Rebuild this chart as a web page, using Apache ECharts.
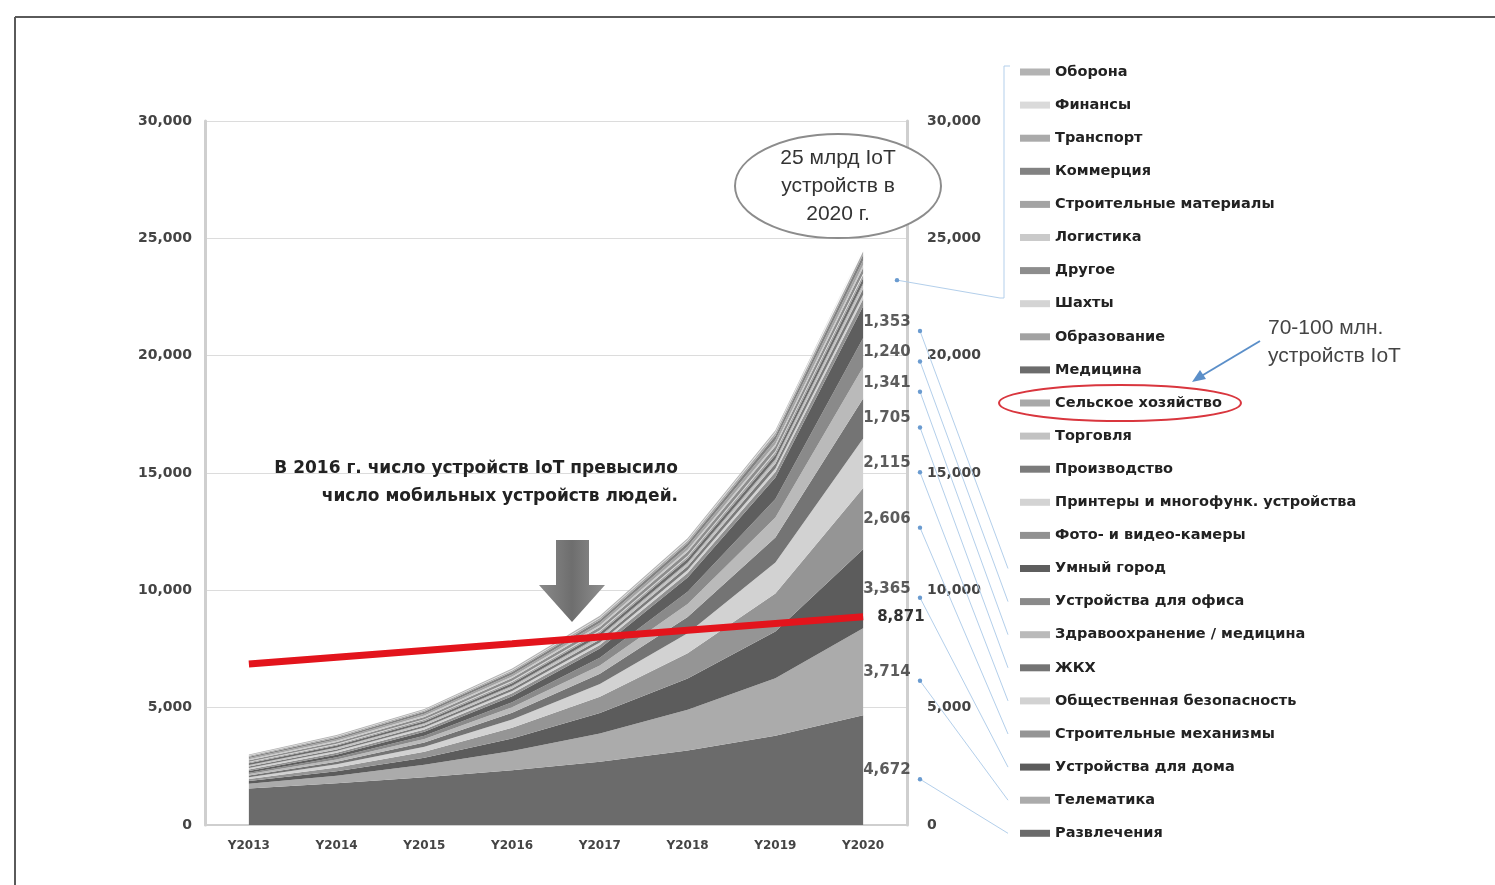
<!DOCTYPE html>
<html>
<head>
<meta charset="utf-8">
<title>IoT</title>
<script src="https://cdn.jsdelivr.net/npm/echarts/dist/echarts.min.js"></script>
<style>
  html, body { margin: 0; padding: 0; background: #ffffff; }
  #chart { width: 1495px; height: 885px; }
</style>
</head>
<body>
<div id="chart"></div>
<script>
// Years on the category axis
const years = ['Y2013', 'Y2014', 'Y2015', 'Y2016', 'Y2017', 'Y2018', 'Y2019', 'Y2020'];

// Installed IoT devices by segment, millions (stacked bottom to top)
const entertainment         = [1560, 1780, 2030, 2330, 2700, 3180, 3800, 4672];
const telematics            = [200, 320, 540, 820, 1200, 1730, 2450, 3714];
const homeDevices           = [110, 190, 300, 540, 870, 1330, 2000, 3365];
const constructionMachinery = [90, 160, 250, 455, 695, 1080, 1620, 2606];
const publicSafety          = [80, 135, 215, 350, 540, 850, 1320, 2115];
const utilities             = [70, 115, 180, 285, 440, 690, 1060, 1705];
const healthcare            = [60, 95, 150, 235, 355, 560, 850, 1341];
const officeDevices         = [60, 90, 140, 220, 330, 520, 790, 1240];
const smartCity             = [70, 110, 165, 255, 390, 610, 920, 1353];
const cameras               = [70, 85, 100, 125, 150, 185, 230, 300];
const printers              = [60, 70, 80, 95, 110, 130, 150, 180];
const manufacturing         = [60, 72, 85, 105, 130, 160, 205, 260];
const retail                = [50, 58, 66, 78, 90, 106, 125, 150];
const agriculture           = [20, 26, 32, 40, 50, 60, 72, 90];
const medicine              = [70, 80, 92, 110, 128, 150, 180, 220];
const education             = [40, 48, 56, 66, 78, 92, 110, 130];
const mines                 = [20, 24, 28, 33, 38, 44, 51, 60];
const other                 = [70, 84, 98, 118, 140, 168, 205, 250];
const logistics             = [40, 47, 55, 64, 75, 88, 102, 120];
const buildingMaterials     = [50, 62, 74, 90, 108, 132, 162, 200];
const commerce              = [60, 72, 85, 102, 122, 148, 185, 230];
const transport             = [40, 48, 56, 67, 80, 95, 115, 140];
const finance               = [20, 24, 28, 33, 38, 44, 51, 60];
const defense               = [30, 35, 41, 48, 56, 64, 72, 80];

// Personal mobile devices, millions
const mobileDevices = [6860, 7150, 7440, 7720, 8010, 8300, 8590, 8871];

// Segment names, bottom of the stack first
const segmentNames = [
  'Развлечения', 'Телематика', 'Устройства для дома', 'Строительные механизмы',
  'Общественная безопасность', 'ЖКХ', 'Здравоохранение / медицина', 'Устройства для офиса',
  'Умный город', 'Фото- и видео-камеры', 'Принтеры и многофунк. устройства', 'Производство',
  'Торговля', 'Сельское хозяйство', 'Медицина', 'Образование', 'Шахты', 'Другое',
  'Логистика', 'Строительные материалы', 'Коммерция', 'Транспорт', 'Финансы', 'Оборона'
];
const segmentData = [
  entertainment, telematics, homeDevices, constructionMachinery, publicSafety, utilities,
  healthcare, officeDevices, smartCity, cameras, printers, manufacturing, retail, agriculture,
  medicine, education, mines, other, logistics, buildingMaterials, commerce, transport,
  finance, defense
];
// Segments whose 2020 value is printed beside the stack
const labelledCount = 9;

// Greys of the stacked areas, same order as segmentNames
const segmentColors = [
  '#6b6b6b', '#ababab', '#5c5c5c', '#959595', '#d2d2d2', '#747474', '#bababa', '#8a8a8a',
  '#5e5e5e', '#919191', '#d3d3d3', '#7b7b7b', '#c2c2c2', '#a9a9a9', '#6c6c6c', '#a2a2a2',
  '#d4d4d4', '#8d8d8d', '#cacaca', '#a3a3a3', '#828282', '#aaaaaa', '#dadada', '#b3b3b3'
];

function fmt(v) {
  return String(Math.round(v)).replace(/\B(?=(\d{3})+(?!\d))/g, ',');
}

const FONT = '"DejaVu Sans", Verdana, sans-serif';
const FONT_PLAIN = '"Liberation Sans", Arial, sans-serif';
const last = years.length - 1;

// Mid-points of the labelled 2020 segments, and the middle of the thin upper group
const labelPoints = [];
let running = 0;
segmentData.forEach((d, i) => {
  const v = d[last];
  if (i < labelledCount) labelPoints.push({ value: [years[last], running + v / 2], seg: v });
  running += v;
});
const upperStart = segmentData.slice(0, labelledCount).reduce((s, d) => s + d[last], 0);
const upperMid = (upperStart + running) / 2;

const chart = echarts.init(document.getElementById('chart'));

const areaSeries = segmentNames.map((name, i) => ({
  name: name,
  type: 'line',
  stack: 'iot',
  data: segmentData[i],
  color: segmentColors[i],
  showSymbol: false,
  symbol: 'none',
  lineStyle: { width: 0 },
  areaStyle: { opacity: 1, color: segmentColors[i] },
  itemStyle: { color: segmentColors[i] },
  emphasis: { disabled: true },
  z: 2
}));

const axisLabelStyle = { color: '#444', fontFamily: FONT, fontWeight: 'bold', fontSize: 13 };

const legendTop = 59, legendPad = 5, legendGap = 17.1, legendLine = 16;

chart.setOption({
  animation: false,
  backgroundColor: '#ffffff',
  grid: { left: 205, right: 588, top: 121, bottom: 60, containLabel: false },
  legend: {
    orient: 'vertical',
    left: 1015,
    top: legendTop,
    padding: legendPad,
    itemGap: legendGap,
    itemWidth: 30,
    itemHeight: 7,
    icon: 'rect',
    selectedMode: false,
    data: segmentNames.slice().reverse(),
    textStyle: { color: '#222', fontFamily: FONT, fontWeight: 'bold', fontSize: 14.5, lineHeight: legendLine }
  },
  xAxis: {
    type: 'category',
    data: years,
    axisLine: { lineStyle: { color: '#cfcfcf', width: 2 } },
    axisTick: { show: false },
    axisLabel: Object.assign({ margin: 15, interval: 0 }, axisLabelStyle, { fontSize: 12 })
  },
  yAxis: [
    {
      type: 'value', min: 0, max: 30000, interval: 5000, position: 'left',
      axisLine: { show: true, lineStyle: { color: '#cfcfcf', width: 3 } },
      axisTick: { show: false },
      splitLine: { lineStyle: { color: '#dcdcdc', width: 1 } },
      axisLabel: Object.assign({ margin: 13, formatter: fmt }, axisLabelStyle, { fontSize: 14 })
    },
    {
      type: 'value', min: 0, max: 30000, interval: 5000, position: 'right',
      axisLine: { show: true, lineStyle: { color: '#cfcfcf', width: 3 } },
      axisTick: { show: false },
      splitLine: { show: false },
      axisLabel: Object.assign({ margin: 20, formatter: fmt }, axisLabelStyle, { fontSize: 14 })
    }
  ],
  series: areaSeries.concat([
    {
      name: 'mobile',
      type: 'line',
      data: mobileDevices,
      symbol: 'none',
      lineStyle: { color: '#e3141c', width: 7 },
      itemStyle: { color: '#e3141c' },
      endLabel: {
        show: true, distance: 14, formatter: p => fmt(p.value),
        color: '#333', fontFamily: FONT, fontWeight: 'bold', fontSize: 15
      },
      emphasis: { disabled: true },
      z: 5
    },
    {
      name: 'segment-values',
      type: 'scatter',
      data: labelPoints,
      symbolSize: 0,
      label: {
        show: true, position: 'right', distance: 0,
        formatter: p => fmt(p.data.seg),
        color: '#333', fontFamily: FONT, fontWeight: 'bold', fontSize: 15
      },
      emphasis: { disabled: true },
      z: 6
    }
  ])
});

// Leader lines from the printed values to their legend entries
const graphics = [];
const leaderColor = '#b3cfeb';
const dotColor = '#6a9bd0';
labelPoints.forEach((p, i) => {
  const px = chart.convertToPixel({ xAxisIndex: 0, yAxisIndex: 0 }, p.value);
  const legendIndex = segmentNames.length - 1 - i;
  const ly = legendTop + legendPad + legendLine / 2 + legendIndex * (legendLine + legendGap);
  const sx = 920, sy = px[1] + 9;
  graphics.push({ type: 'line', shape: { x1: sx, y1: sy, x2: 1008, y2: ly },
    style: { stroke: leaderColor, lineWidth: 1 }, z: 10 });
  graphics.push({ type: 'circle', shape: { cx: sx, cy: sy, r: 2.2 }, style: { fill: dotColor }, z: 11 });
});
const upperPx = chart.convertToPixel({ xAxisIndex: 0, yAxisIndex: 0 }, [years[last], upperMid]);
graphics.push({ type: 'line', shape: { x1: 897, y1: upperPx[1] + 3, x2: 1000, y2: 298 },
  style: { stroke: leaderColor, lineWidth: 1 }, z: 10 });
graphics.push({ type: 'circle', shape: { cx: 897, cy: upperPx[1] + 3, r: 2.2 }, style: { fill: dotColor }, z: 11 });
graphics.push({ type: 'polyline', shape: { points: [[1010, 66], [1004, 66], [1004, 298], [1000, 298]] },
  style: { stroke: leaderColor, lineWidth: 1, fill: null }, z: 10 });

// Outer frame
graphics.push({ type: 'line', shape: { x1: 15, y1: 17, x2: 1495, y2: 17 }, style: { stroke: '#5a5a5a', lineWidth: 2 }, z: 20 });
graphics.push({ type: 'line', shape: { x1: 15, y1: 17, x2: 15, y2: 885 }, style: { stroke: '#5a5a5a', lineWidth: 2 }, z: 20 });

// Callout with the 2020 total
graphics.push({ type: 'ellipse', shape: { cx: 838, cy: 186, rx: 103, ry: 52 },
  style: { fill: '#ffffff', stroke: '#8c8c8c', lineWidth: 2 }, z: 20 });
graphics.push({ type: 'text', x: 838, y: 186, z: 21,
  style: { text: '25 млрд IoT\nустройств в\n2020 г.', fill: '#333', font: '21px ' + FONT_PLAIN,
    align: 'center', verticalAlign: 'middle', lineHeight: 28 } });

// Crossing note and arrow
graphics.push({ type: 'text', x: 678, y: 483, z: 21,
  style: { text: 'В 2016 г. число устройств IoT превысило\nчисло мобильных устройств людей.',
    fill: '#222', font: 'bold 17px ' + FONT, align: 'right', verticalAlign: 'middle', lineHeight: 28 } });
graphics.push({ type: 'polygon', z: 21,
  shape: { points: [[556, 540], [589, 540], [589, 585], [605, 585], [572, 622], [539, 585], [556, 585]] },
  style: { fill: { type: 'linear', x: 0, y: 0, x2: 1, y2: 0, colorStops: [
    { offset: 0, color: '#8a8a8a' }, { offset: 0.5, color: '#6e6e6e' }, { offset: 1, color: '#8f8f8f' }] } } });

// Agriculture highlight
graphics.push({ type: 'ellipse', shape: { cx: 1120, cy: 403, rx: 121, ry: 18 },
  style: { fill: null, stroke: '#d9363e', lineWidth: 2 }, z: 20 });
graphics.push({ type: 'line', shape: { x1: 1260, y1: 341, x2: 1198, y2: 378 },
  style: { stroke: '#5b8fc9', lineWidth: 2 }, z: 20 });
graphics.push({ type: 'polygon', shape: { points: [[1192, 382], [1200, 370], [1206, 379]] },
  style: { fill: '#5b8fc9' }, z: 20 });
graphics.push({ type: 'text', x: 1268, y: 342, z: 21,
  style: { text: '70-100 млн.\nустройств IoT', fill: '#444', font: '21px ' + FONT_PLAIN,
    align: 'left', verticalAlign: 'middle', lineHeight: 28 } });

chart.setOption({ graphic: graphics });
</script>
</body>
</html>
